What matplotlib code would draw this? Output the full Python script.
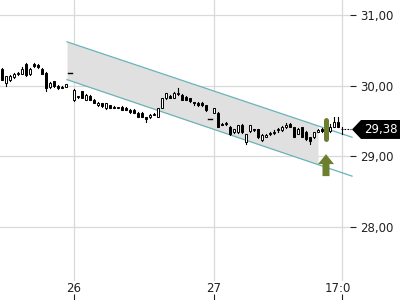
import matplotlib
matplotlib.use("Agg")
import matplotlib.pyplot as plt
import numpy as np
from matplotlib.patches import Rectangle, Polygon
from matplotlib.transforms import blended_transform_factory

# 15-minute candles, slot 0 = session open on the 26th
opens = [
    30.24, 30.04, 30.08, 30.12, 30.16, 30.17, 30.30, 30.16, 30.31, 30.29, 30.24, 30.18, 29.98, 30.06, 30.00, 29.98, 29.98,
    30.18,
    29.79, 29.84, 29.92, 29.80, 29.86, 29.80, 29.72, 29.75, 29.68, 29.72, 29.70, 29.69, 29.70, 29.69, 29.66, 29.66, 29.62,
    29.62, 29.55, 29.55, 29.59, 29.56, 29.69, 29.82, 29.86, 29.83, 29.88, 29.87, 29.84, 29.82, 29.76, 29.76, 29.76, 29.72,
    29.535,
    29.62, 29.62, 29.46, 29.47, 29.42, 29.34, 29.34, 29.45, 29.20, 29.36, 29.38, 29.38, 29.23, 29.28, 29.31, 29.33, 29.37,
    29.37, 29.41, 29.46, 29.41, 29.32, 29.41, 29.35, 29.27, 29.27, 29.35, 29.39, 29.37, 29.36, 29.42, 29.49, 29.38,
]
highs = [
    30.25, 30.14, 30.15, 30.18, 30.20, 30.26, 30.32, 30.25, 30.32, 30.30, 30.25, 30.19, 30.05, 30.07, 30.01, 29.99, 30.03,
    30.18,
    29.95, 29.86, 29.93, 29.88, 29.87, 29.81, 29.77, 29.76, 29.76, 29.73, 29.71, 29.70, 29.71, 29.70, 29.67, 29.67, 29.63,
    29.63, 29.56, 29.60, 29.62, 29.69, 29.83, 29.90, 29.87, 29.91, 29.97, 29.88, 29.85, 29.83, 29.77, 29.77, 29.77, 29.73,
    29.535,
    29.69, 29.63, 29.47, 29.48, 29.43, 29.39, 29.45, 29.46, 29.32, 29.45, 29.39, 29.39, 29.31, 29.31, 29.34, 29.37, 29.40,
    29.43, 29.47, 29.47, 29.42, 29.40, 29.42, 29.36, 29.28, 29.35, 29.38, 29.40, 29.41, 29.46, 29.55, 29.55, 29.42,
]
lows = [
    30.08, 29.99, 30.07, 30.11, 30.15, 30.16, 30.14, 30.15, 30.27, 30.25, 30.16, 29.93, 29.97, 29.98, 29.95, 29.96, 29.98,
    30.18,
    29.78, 29.83, 29.82, 29.79, 29.79, 29.75, 29.71, 29.70, 29.67, 29.68, 29.68, 29.68, 29.65, 29.65, 29.62, 29.61, 29.55,
    29.55, 29.49, 29.54, 29.58, 29.55, 29.68, 29.81, 29.82, 29.82, 29.87, 29.79, 29.79, 29.77, 29.73, 29.71, 29.71, 29.64,
    29.535,
    29.61, 29.41, 29.44, 29.45, 29.30, 29.33, 29.33, 29.33, 29.17, 29.35, 29.36, 29.26, 29.22, 29.27, 29.30, 29.32, 29.35,
    29.36, 29.40, 29.41, 29.27, 29.31, 29.27, 29.23, 29.17, 29.26, 29.34, 29.35, 29.36, 29.35, 29.41, 29.41, 29.32,
]
closes = [
    30.085, 30.13, 30.14, 30.17, 30.17, 30.24, 30.15, 30.23, 30.28, 30.26, 30.17, 29.97, 30.04, 29.99, 29.96, 29.97, 30.03,
    30.18,
    29.94, 29.85, 29.83, 29.87, 29.80, 29.76, 29.76, 29.71, 29.75, 29.69, 29.69, 29.69, 29.66, 29.66, 29.63, 29.62, 29.56,
    29.56, 29.53, 29.59, 29.60, 29.68, 29.82, 29.89, 29.83, 29.90, 29.89, 29.80, 29.80, 29.78, 29.75, 29.72, 29.72, 29.65,
    29.535,
    29.68, 29.42, 29.45, 29.46, 29.31, 29.38, 29.44, 29.34, 29.31, 29.44, 29.37, 29.27, 29.30, 29.30, 29.33, 29.35, 29.38,
    29.41, 29.45, 29.42, 29.28, 29.39, 29.28, 29.24, 29.21, 29.34, 29.37, 29.36, 29.38, 29.42, 29.49, 29.42, 29.38,
]
first_slot = -18

# trend channel (start/end slot and price)
channel_x = [-1.75, 69.5]
channel_upper = [30.62, 29.27]
channel_lower = [30.085, 28.72]
channel_fill_end = 61.0

signal_slot = 63
signal_bar = [29.24, 29.52]
arrow_base, arrow_tip = 28.72, 29.03

last_price = 29.38
last_label = "29,38"

y_ticks = [28.0, 29.0, 30.0, 31.0]
y_labels = ["28,00", "29,00", "30,00", "31,00"]
x_ticks = [0, 35, 67]
x_labels = ["26", "27", "17:00"]

GRID = "#d9d9d9"
TEAL = "#69b3b8"
OLIVE = "#6b7f2f"

fig = plt.figure(figsize=(4, 3), dpi=100)
ax = fig.add_axes([0, 0, 350 / 400, 1])
ax.set_xlim(-18.5, 69)
ax.set_ylim(26.967, 31.212)
for s in ax.spines.values():
    s.set_visible(False)

# grid
for y in y_ticks:
    ax.axhline(y, color=GRID, lw=0.9, zorder=0)
for x in x_ticks:
    ax.axvline(x, ymin=0.067, ymax=1, color=GRID, lw=0.9, zorder=0)

# channel
xf = np.linspace(channel_x[0], channel_fill_end, 2)
up_f = np.interp(xf, channel_x, channel_upper)
lo_f = np.interp(xf, channel_x, channel_lower)
ax.fill_between(xf, lo_f, up_f, color="#e0e0e0", lw=0, zorder=1)
ax.plot(channel_x, channel_upper, color=TEAL, lw=0.9, zorder=2, clip_on=False)
ax.plot(channel_x, channel_lower, color=TEAL, lw=0.9, zorder=2, clip_on=False)

# candles
slots = np.arange(first_slot, first_slot + len(opens))
w = 0.68
for x, o, h, l, c in zip(slots, opens, highs, lows, closes):
    if o == c == h == l:
        ax.plot([x - 0.45, x + 0.45], [o, o], color="black", lw=1.0, zorder=3)
        continue
    ax.plot([x, x], [l, h], color="black", lw=0.8, zorder=3)
    lo_b, hi_b = min(o, c), max(o, c)
    hgt = max(hi_b - lo_b, 0.012)
    fc = "black" if c < o else "white"
    ax.add_patch(Rectangle((x - w / 2, lo_b), w, hgt, facecolor=fc,
                           edgecolor="black", lw=0.7, zorder=4))

# last price dashes
ax.plot([slots[-1] + 0.4, 69.2], [last_price, last_price], color="black",
        lw=0.8, dashes=(1.5, 1.2), zorder=3, clip_on=False)

# signal markers
ax.plot([signal_slot, signal_slot], signal_bar, color=OLIVE, lw=3.6,
        solid_capstyle="round", zorder=5)
ax.arrow(signal_slot, arrow_base, 0, arrow_tip - arrow_base, width=1.75,
         head_width=4.0, head_length=0.14, length_includes_head=True,
         color=OLIVE, lw=0, zorder=5)

# right axis ticks
ax.yaxis.tick_right()
ax.set_yticks(y_ticks)
ax.set_yticklabels(y_labels)
ax.tick_params(axis="y", length=4, width=0.8, pad=3, colors="#222222", labelsize=8.5)
ax.set_xticks(x_ticks)
ax.set_xticklabels([])
ax.tick_params(axis="x", direction="in", length=4, width=0.8, colors="#222222")
tr = blended_transform_factory(ax.transData, ax.transAxes)
for x, lab in zip(x_ticks, x_labels):
    ax.text(x, 0.04, lab, transform=tr, ha="center", va="center",
            fontsize=8.5, color="#222222", clip_on=True)

# last price label
tb = blended_transform_factory(ax.transAxes, ax.transData)
hh = 0.134
poly = Polygon([(352 / 350, last_price), (361 / 350, last_price + hh),
                (400 / 350, last_price + hh), (400 / 350, last_price - hh),
                (361 / 350, last_price - hh)], closed=True, transform=tb,
               facecolor="black", edgecolor="none", clip_on=False, zorder=6)
ax.add_patch(poly)
ax.text(381 / 350, last_price, last_label, transform=tb, ha="center", va="center",
        color="white", fontsize=8.5, clip_on=False, zorder=7)

fig.savefig("out.png", dpi=100)
